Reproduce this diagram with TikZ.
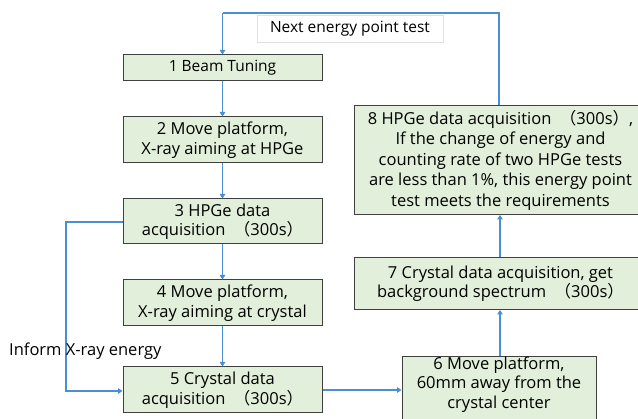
\documentclass[tikz,border=0pt]{standalone}
\usepackage{fontspec}
\setmainfont{Open Sans}
\newfontfamily\cjk{Noto Sans CJK SC}
\usetikzlibrary{arrows.meta}
\definecolor{boxfill}{HTML}{E2EFDA}
\definecolor{boxdraw}{HTML}{404040}
\definecolor{lineblue}{HTML}{4A8FD4}
\newcommand{\lp}{{\cjk （}}
\newcommand{\rp}{{\cjk ）}}
\begin{document}
\begin{tikzpicture}[x=1pt,y=-1pt,
  stepbox/.style={draw=boxdraw,fill=boxfill,line width=1pt,align=center,inner sep=0pt,
    font=\fontsize{16.5}{19.5}\selectfont},
  conn/.style={draw=lineblue,line width=1.4pt,-{Triangle[width=5.5pt,length=4.5pt]}},
  plain/.style={draw=lineblue,line width=1.4pt}]
\useasboundingbox (0,0) rectangle (638,419);
\node[stepbox,minimum width=199pt,minimum height=26pt,font=\fontsize{15.5}{19}\selectfont] (b1) at (222.5,68) {1 Beam Tuning};
\node[stepbox,minimum width=199pt,minimum height=46pt] (b2) at (222.5,140) {2 Move platform,\\X-ray aiming at HPGe};
\node[stepbox,minimum width=199pt,minimum height=45pt] (b3) at (222.5,221.5) {3 HPGe data\\acquisition\ \ \lp300s\rp};
\node[stepbox,minimum width=199pt,minimum height=46pt] (b4) at (222.5,303) {4 Move platform,\\X-ray aiming at crystal};
\node[stepbox,minimum width=199pt,minimum height=46pt] (b5) at (222.5,390) {5 Crystal data\\acquisition\ \ \lp300s\rp};
\node[stepbox,minimum width=194pt,minimum height=68pt,anchor=north] (b6) at (499,356) {6 Move platform,\\60mm away from the\\crystal center\\[5pt]};
\node[stepbox,minimum width=292pt,minimum height=52pt,anchor=north west] (b7) at (354,257) {7 Crystal data acquisition, get\\background spectrum\ \ \lp300s\rp};
\node[stepbox,minimum width=292pt,minimum height=109pt,anchor=north west,font=\fontsize{16.5}{20.5}\selectfont] (b8) at (354,105) {8 HPGe data acquisition\ \ \lp300s\rp,\\If the change of energy and\\counting rate of two HPGe tests\\are less than 1\%, this energy point\\test meets the requirements};
\coordinate (tr) at (499,13);
\coordinate (tl) at (222.5,13);
\coordinate (l3) at (66,222);
\coordinate (l5) at (66,391);
\draw[plain] (b8.north -| tr) -- (tr) -- (tl);
\node[draw=black!12,fill=white,line width=0.6pt,minimum width=186pt,minimum height=27pt,inner sep=0pt,font=\fontsize{15.5}{18}\selectfont] (lbl) at (350,28.5) {Next energy point test};
\draw[conn] (tl) -- (b1.north);
\draw[conn] (b1) -- (b2);
\draw[conn] (b2) -- (b3);
\draw[conn] (b3) -- (b4);
\draw[conn] (b4) -- (b5);
\draw[conn] (b5.east |- 0,390) -- (b6.west |- 0,390);
\draw[conn] (b6.north -| 500,0) -- (b7.south -| 500,0);
\draw[conn] (b7.north -| 500,0) -- (b8.south -| 500,0);
\draw[conn] (b3.west |- l3) -- (l3) -- (l5) -- (b5.west |- l5);
\node[anchor=base west,inner sep=0pt,font=\fontsize{16.5}{19}\selectfont] (inf) at (9,356) {Inform X-ray energy};
\end{tikzpicture}
\end{document}
